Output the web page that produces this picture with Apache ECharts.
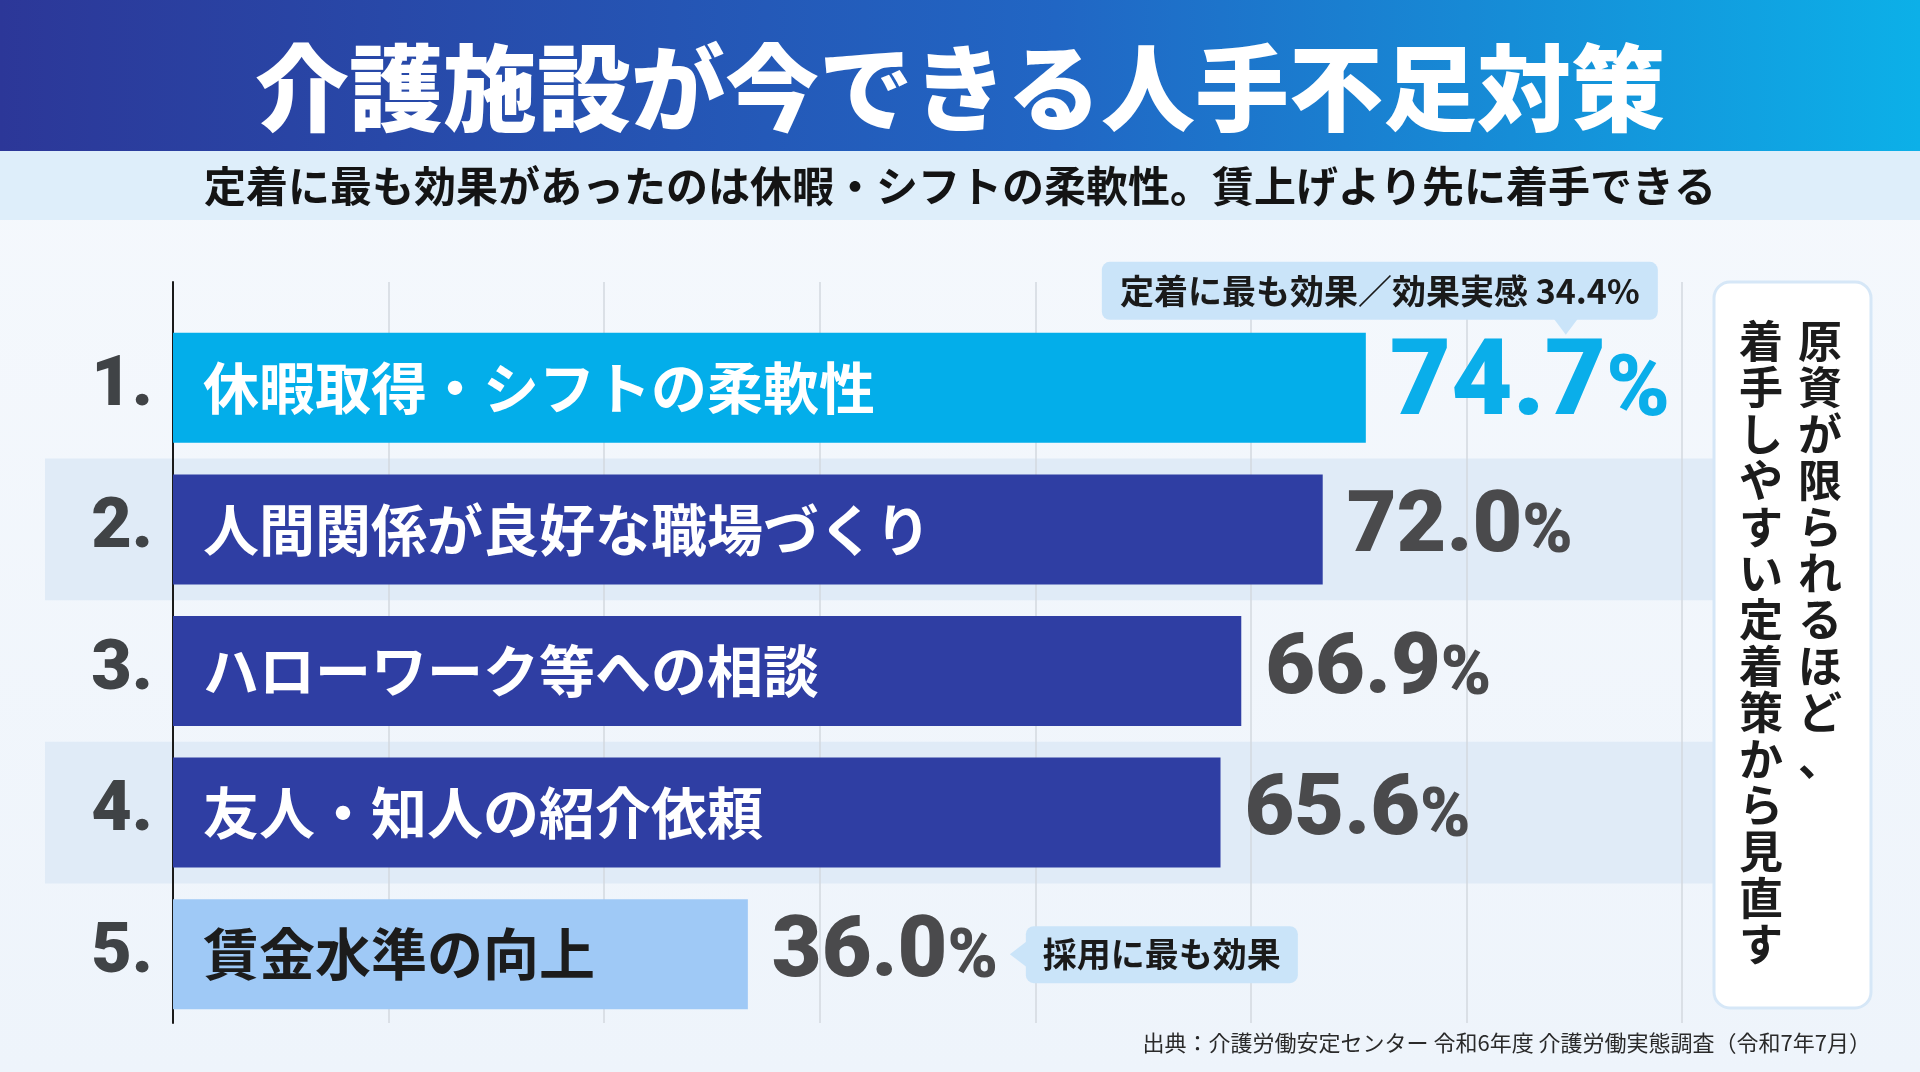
<!DOCTYPE html>
<html lang="ja">
<head>
<meta charset="utf-8" />
<title>介護施設が今できる人手不足対策</title>
<script src="https://cdn.jsdelivr.net/npm/echarts@6/dist/echarts.min.js"></script>
<style>
  html, body { margin: 0; padding: 0; }
  #chart { width: 1920px; height: 1072px; }
</style>
</head>
<body>
<div id="chart"></div>
<script>
// ---- data ----
var ranks = ['1.', '2.', '3.', '4.', '5.'];
var measures = ['休暇取得・シフトの柔軟性', '人間関係が良好な職場づくり', 'ハローワーク等への相談', '友人・知人の紹介依頼', '賃金水準の向上'];
var rates = [74.7, 72.0, 66.9, 65.6, 36.0];
var barColors = ['#03aeea', '#2f3ea3', '#2f3ea3', '#2f3ea3', '#9fc9f6'];
var nameColors = ['#ffffff', '#ffffff', '#ffffff', '#ffffff', '#1c1c1c'];

var titleText = '介護施設が今できる人手不足対策';
var subText = '定着に最も効果があったのは休暇・シフトの柔軟性。賃上げより先に着手できる';
var calloutTop = '定着に最も効果／効果実感 34.4%';
var calloutLow = '採用に最も効果';
var noteRight = '原資が限られるほど、';
var noteLeft = '着手しやすい定着策から見直す';
var sourceText = '出典：介護労働安定センター 令和6年度 介護労働実態調査（令和7年7月）';

var JP = '"Noto Sans CJK JP", "Noto Sans", sans-serif';
var NUM = 'Roboto, "Liberation Sans", sans-serif';

var chart = echarts.init(document.getElementById('chart'));

var gridL = 173, gridR = 238;

var option = {
    backgroundColor: {
        type: 'linear', x: 0, y: 0, x2: 0, y2: 1,
        colorStops: [{ offset: 0, color: '#f6f9fd' }, { offset: 1, color: '#eef4fb' }]
    },
    animation: false,
    grid: [
        { left: gridL, right: gridR, top: 317, bottom: 47 },   // bars
        { left: 45, right: 206, top: 317, bottom: 47 },        // row bands
        { left: gridL, right: gridR, top: 282, bottom: 49 }    // grid lines + axis
    ],
    xAxis: [
        { gridIndex: 0, type: 'value', min: 0, max: 94.5, interval: 13.5, show: false },
        { gridIndex: 1, type: 'value', min: 0, max: 1, show: false },
        {
            gridIndex: 2, type: 'value', min: 0, max: 94.5, interval: 13.5,
            axisLine: { show: false }, axisTick: { show: false }, axisLabel: { show: false },
            splitLine: { show: true, lineStyle: { color: '#d3d8df', width: 1.5 } }
        }
    ],
    yAxis: [
        {
            gridIndex: 0, type: 'category', data: ranks, inverse: true,
            axisLine: { show: false }, axisTick: { show: false },
            axisLabel: {
                margin: 20, fontFamily: NUM, fontWeight: 900, fontSize: 70, color: '#404346'
            }
        },
        {
            gridIndex: 1, type: 'category', data: ranks, inverse: true,
            axisLine: { show: false }, axisTick: { show: false }, axisLabel: { show: false },
            splitArea: { show: true, areaStyle: { color: ['rgba(0,0,0,0)', '#e0ebf7'] } }
        },
        {
            gridIndex: 2, type: 'value', min: 0, max: 1,
            axisLine: { show: true, onZero: false, lineStyle: { color: '#1a1a1a', width: 2 } },
            axisTick: { show: false }, axisLabel: { show: false }, splitLine: { show: false }
        }
    ],
    series: [
        {
            type: 'bar', xAxisIndex: 0, yAxisIndex: 0, barWidth: 110, silent: true,
            data: rates.map(function (v, i) {
                return {
                    value: v,
                    itemStyle: { color: barColors[i] },
                    label: { color: nameColors[i] }
                };
            }),
            label: {
                show: true, position: 'insideLeft', distance: 30,
                fontFamily: JP, fontWeight: 'bold', fontSize: 56,
                formatter: function (p) { return measures[p.dataIndex]; }
            }
        },
        {
            type: 'bar', xAxisIndex: 0, yAxisIndex: 0, barWidth: 110, barGap: '-100%', silent: true,
            data: rates,
            itemStyle: { color: 'rgba(0,0,0,0)' },
            label: {
                show: true, position: 'right', distance: 24,
                formatter: function (p) {
                    var s = p.value.toFixed(1);
                    return p.dataIndex === 0 ? '{n1|' + s + '}{p1|%}' : '{n|' + s + '}{p|%}';
                },
                rich: {
                    n1: { fontFamily: NUM, fontWeight: 900, fontSize: 106, color: '#0aaeea', verticalAlign: 'bottom' },
                    p1: { fontFamily: NUM, fontWeight: 900, fontSize: 86, color: '#0aaeea', verticalAlign: 'bottom', padding: [0, 0, 4, 0] },
                    n: { fontFamily: NUM, fontWeight: 900, fontSize: 86, color: '#4a4a4c', verticalAlign: 'bottom' },
                    p: { fontFamily: NUM, fontWeight: 900, fontSize: 68, color: '#4a4a4c', verticalAlign: 'bottom', padding: [0, 0, 3, 0] }
                }
            }
        }
    ]
};
chart.setOption(option);

// anchors for callouts, taken from the bar ends
var end1 = chart.convertToPixel({ gridIndex: 0 }, [rates[0], 0]);
var end5 = chart.convertToPixel({ gridIndex: 0 }, [rates[4], 4]);
var tip1x = end1[0] + 200, tip1y = end1[1] - 53;
var tip5x = end5[0] + 262, tip5y = end5[1];

function vertical(str) { return str.split('').join('\n'); }

var graphics = [
    // title banner
    {
        type: 'rect', left: 0, top: 0, z: 10,
        shape: { width: 1920, height: 151 },
        style: {
            fill: {
                type: 'linear', x: 0, y: 0, x2: 1, y2: 0,
                colorStops: [{ offset: 0, color: '#2c3798' }, { offset: 0.55, color: '#2166c4' }, { offset: 1, color: '#0cb0e8' }]
            }
        }
    },
    {
        type: 'text', x: 960, y: 88, z: 11,
        style: {
            text: titleText, fill: '#ffffff', font: '900 94px ' + JP,
            textAlign: 'center', textVerticalAlign: 'middle',
            shadowColor: 'rgba(0,0,20,0.6)', shadowBlur: 8, shadowOffsetX: 3, shadowOffsetY: 6
        }
    },
    // subtitle band
    {
        type: 'rect', left: 0, top: 151, z: 10,
        shape: { width: 1920, height: 69 },
        style: { fill: '#deeefa' }
    },
    {
        type: 'text', x: 960, y: 186, z: 11,
        style: {
            text: subText, fill: '#141414', font: 'bold 42px ' + JP,
            textAlign: 'center', textVerticalAlign: 'middle'
        }
    },
    // callout above bar 1
    {
        type: 'rect', z: 10,
        shape: { x: tip1x - 464, y: tip1y - 73, width: 556, height: 58, r: 8 },
        style: { fill: '#cae4f9' }
    },
    {
        type: 'polygon', z: 10,
        shape: { points: [[tip1x - 12, tip1y - 16], [tip1x + 12, tip1y - 16], [tip1x, tip1y]] },
        style: { fill: '#cae4f9' }
    },
    {
        type: 'text', z: 11, x: tip1x - 186, y: tip1y - 44,
        style: {
            text: calloutTop, fill: '#1a1a1a', font: 'bold 34px ' + JP,
            textAlign: 'center', textVerticalAlign: 'middle'
        }
    },
    // callout next to bar 5
    {
        type: 'rect', z: 10,
        shape: { x: tip5x + 16, y: tip5y - 28, width: 272, height: 57, r: 8 },
        style: { fill: '#cae4f9' }
    },
    {
        type: 'polygon', z: 10,
        shape: { points: [[tip5x + 17, tip5y - 13], [tip5x + 17, tip5y + 13], [tip5x, tip5y]] },
        style: { fill: '#cae4f9' }
    },
    {
        type: 'text', z: 11, x: tip5x + 152, y: tip5y,
        style: {
            text: calloutLow, fill: '#1a1a1a', font: 'bold 34px ' + JP,
            textAlign: 'center', textVerticalAlign: 'middle'
        }
    },
    // right note panel
    {
        type: 'rect', z: 10,
        shape: { x: 1714, y: 282, width: 157, height: 726, r: 16 },
        style: { fill: '#ffffff', stroke: '#d6e7f7', lineWidth: 3 }
    },
    {
        type: 'text', z: 11, x: 1820, y: 318,
        style: {
            text: vertical(noteRight), fill: '#1c1c1c', font: 'bold 44px ' + JP,
            lineHeight: 46.4, textAlign: 'center', textVerticalAlign: 'top'
        }
    },
    {
        type: 'text', z: 11, x: 1761, y: 318,
        style: {
            text: vertical(noteLeft), fill: '#1c1c1c', font: 'bold 44px ' + JP,
            lineHeight: 46.4, textAlign: 'center', textVerticalAlign: 'top'
        }
    },
    // source
    {
        type: 'text', z: 11, x: 1871, y: 1043,
        style: {
            text: sourceText, fill: '#2a2a2a', font: '22px ' + JP,
            textAlign: 'right', textVerticalAlign: 'middle'
        }
    }
];

chart.setOption({ graphic: graphics });
</script>
</body>
</html>
